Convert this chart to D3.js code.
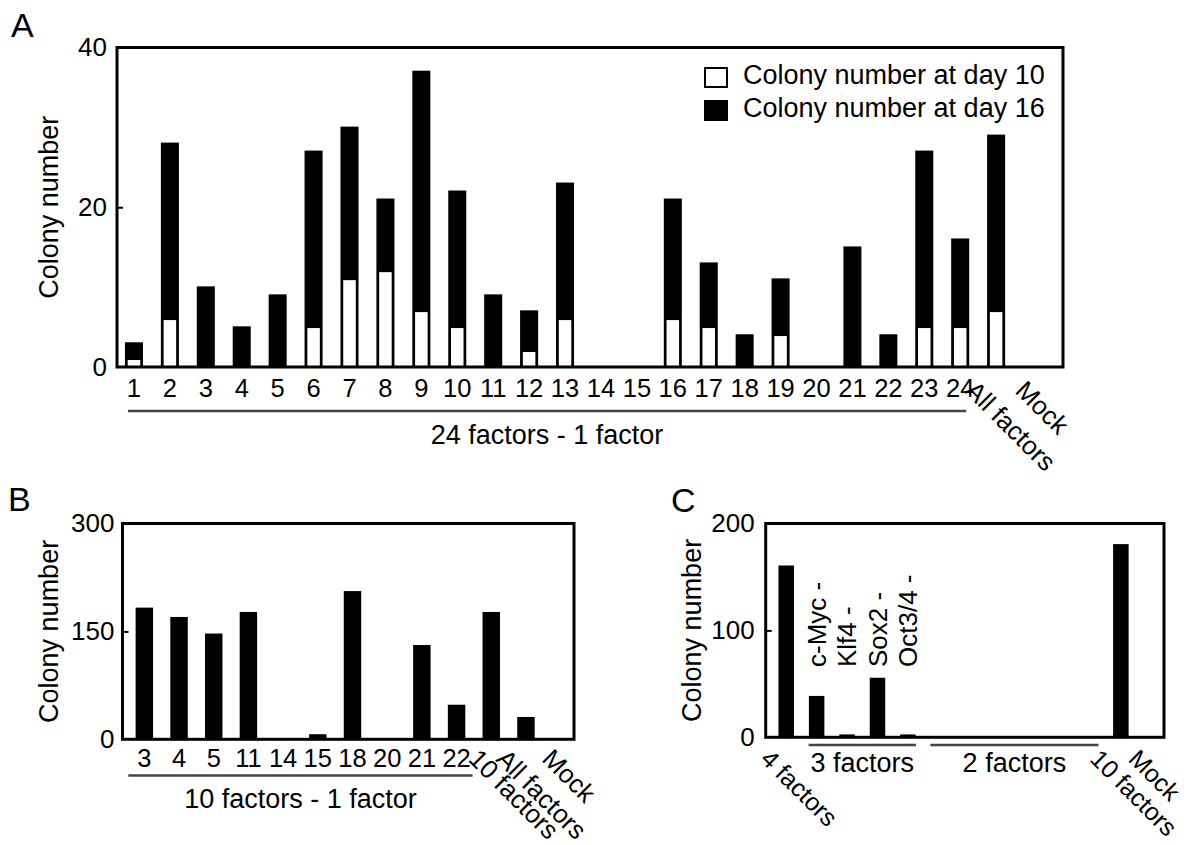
<!DOCTYPE html>
<html>
<head>
<meta charset="utf-8">
<script src="https://cdn.jsdelivr.net/npm/d3@7"></script>
<style>
  body { margin: 0; background: #fff; }
  svg { display: block; font-family: "Liberation Sans", Arial, sans-serif; }
  .frame { fill: none; stroke: #000; stroke-width: 3; }
  .tick line { stroke: #000; stroke-width: 2; }
  .tick text { fill: #000; }
</style>
</head>
<body>
<div id="chart"></div>
<script>
// Panel A: 24 factors minus one factor, colony counts at day 10 and day 16
var aLabels = ["1","2","3","4","5","6","7","8","9","10","11","12","13","14","15","16",
  "17","18","19","20","21","22","23","24","All factors","Mock"];
var aDay16 = [3,28,10,5,9,27,30,21,37,22,9,7,23,0,0,21,13,4,11,0,15,4,27,16,29,0];
var aDay10 = [1,6,0,0,0,5,11,12,7,5,0,2,6,0,0,6,5,0,4,0,0,0,5,5,7,0];
var aTicks = [0, 20, 40];

// Panel B: 10 factors minus one factor
var bLabels = ["3","4","5","11","14","15","18","20","21","22","10 factors","All factors","Mock"];
var bValues = [182,169,146,176,0,6,205,0,130,47,176,30,0];
var bTicks = [0, 150, 300];

// Panel C: combinations of the 4 factors
var cLabels = ["4 factors","c-Myc -","Klf4 -","Sox2 -","Oct3/4 -",
  "2f-1","2f-2","2f-3","2f-4","2f-5","2f-6","10 factors","Mock"];
var cValues = [160,38,2,55,2,0,0,0,0,0,0,180,0];
var cTicks = [0, 100, 200];

var svg = d3.select("#chart").append("svg")
  .attr("width", 1200)
  .attr("height", 845);

svg.append("rect").attr("width", 1200).attr("height", 845).attr("fill", "#fff");

var rotated = ["All factors", "Mock", "10 factors", "4 factors"];

// one bar panel: frame, y axis, category labels
function drawPanel(opt) {
  var x = d3.scaleBand()
    .domain(opt.labels)
    .range(opt.xRange)
    .paddingInner(0.54)
    .paddingOuter(0.27);

  var y = d3.scaleLinear()
    .domain([0, opt.ticks[opt.ticks.length - 1]])
    .range([opt.frame.y1, opt.frame.y0]);

  var g = svg.append("g");

  // y axis (ticks point inward, frame drawn separately)
  var yAxis = g.append("g")
    .attr("transform", `translate(${opt.frame.x0}, 0)`)
    .call(d3.axisLeft(y).tickValues(opt.ticks).tickSize(-6).tickPadding(opt.tickPad));
  yAxis.select(".domain").remove();
  yAxis.selectAll("text").attr("font-size", "26px").attr("font-family", "Liberation Sans, Arial");
  yAxis.selectAll(".tick").filter(d => d === 0 || d === opt.ticks[opt.ticks.length - 1])
    .select("line").remove();

  // y title
  g.append("text")
    .attr("transform", `translate(${opt.yTitleX}, ${(opt.frame.y0 + opt.frame.y1) / 2}) rotate(-90)`)
    .attr("text-anchor", "middle")
    .attr("dy", "0.35em")
    .attr("font-size", "27px")
    .text("Colony number");

  // panel letter
  g.append("text")
    .attr("x", opt.letterX)
    .attr("y", opt.letterY)
    .attr("font-size", "34px")
    .text(opt.letter);

  return { g: g, x: x, y: y };
}

function drawXLabels(p, opt) {
  var xAxis = p.g.append("g")
    .attr("transform", `translate(0, ${opt.frame.y1})`)
    .call(d3.axisBottom(p.x).tickSize(0).tickPadding(opt.labelPad)
      .tickFormat(d => (d.indexOf("2f-") === 0 || d.slice(-2) === " -") ? "" : d));
  xAxis.select(".domain").remove();
  xAxis.selectAll("text").attr("font-size", "25.5px");

  // the long names are turned 45 degrees
  xAxis.selectAll(".tick text")
    .filter(d => rotated.indexOf(d) >= 0)
    .attr("font-size", opt.rotFont)
    .attr("text-anchor", "start")
    .attr("x", 0).attr("y", 0).attr("dy", null)
    .attr("transform", d => {
      var dx = opt.rotDx[d] !== undefined ? opt.rotDx[d] : -29;
      return `translate(${dx}, ${opt.rotDy}) rotate(45)`;
    });
}

function underline(p, from, to, lineY, text, textY, ext) {
  var x0 = p.x(from) + p.x.bandwidth() / 2 - ext;
  var x1 = p.x(to) + p.x.bandwidth() / 2 + ext;
  p.g.append("line")
    .attr("x1", x0).attr("x2", x1)
    .attr("y1", lineY).attr("y2", lineY)
    .attr("stroke", "#444")
    .attr("stroke-width", 2.5);
  p.g.append("text")
    .attr("x", (x0 + x1) / 2)
    .attr("y", textY)
    .attr("text-anchor", "middle")
    .attr("font-size", "27px")
    .text(text);
}

function frame(p, f) {
  p.g.append("rect")
    .attr("class", "frame")
    .attr("x", f.x0).attr("y", f.y0)
    .attr("width", f.x1 - f.x0).attr("height", f.y1 - f.y0);
}

//////////////////////////// Panel A
var aOpt = {
  labels: aLabels, ticks: aTicks,
  frame: { x0: 117, x1: 1063, y0: 47.5, y1: 367 },
  xRange: [116, 1050], tickPad: 10, yTitleX: 49,
  letter: "A", letterX: 11, letterY: 37,
  labelPad: 12, rotDy: 25, rotFont: "26px",
  rotDx: { "All factors": -32, "Mock": -18 }
};
var pA = drawPanel(aOpt);

// day 16 (black, full height)
pA.g.selectAll("rect.day16")
  .data(aLabels.map((d, i) => ({ key: d, v: aDay16[i] })).filter(d => d.v > 0))
  .enter()
  .append("rect")
  .classed("day16", true)
  .attr("x", d => pA.x(d.key))
  .attr("width", pA.x.bandwidth())
  .attr("y", d => pA.y(d.v))
  .attr("height", d => pA.y(0) - pA.y(d.v))
  .attr("fill", "#000")
  .attr("stroke", "#000")
  .attr("stroke-width", 1.5);

// day 10 (white, overlaid at the bottom)
pA.g.selectAll("rect.day10")
  .data(aLabels.map((d, i) => ({ key: d, v: aDay10[i] })).filter(d => d.v > 0))
  .enter()
  .append("rect")
  .classed("day10", true)
  .attr("x", d => pA.x(d.key) + 1)
  .attr("width", pA.x.bandwidth() - 2)
  .attr("y", d => pA.y(d.v))
  .attr("height", d => pA.y(0) - pA.y(d.v))
  .attr("fill", "#fff")
  .attr("stroke", "#000")
  .attr("stroke-width", 2);

frame(pA, aOpt.frame);
drawXLabels(pA, aOpt);
underline(pA, "1", "24", 411, "24 factors - 1 factor", 444, 6);

// legend
var legend = pA.g.append("g").attr("transform", "translate(704, 67)");
var legendItems = [
  { fill: "#fff", text: "Colony number at day 10" },
  { fill: "#000", text: "Colony number at day 16" }
];
legendItems.forEach(function(item, i) {
  legend.append("rect")
    .attr("x", 1).attr("y", i * 33 + 1)
    .attr("width", 22).attr("height", 19)
    .attr("fill", item.fill)
    .attr("stroke", "#000")
    .attr("stroke-width", 2);
  legend.append("text")
    .attr("x", 39).attr("y", i * 33 + 17)
    .attr("font-size", "27px")
    .text(item.text);
});

//////////////////////////// Panel B
var bOpt = {
  labels: bLabels, ticks: bTicks,
  frame: { x0: 122.5, x1: 574, y0: 523.5, y1: 739.3 },
  xRange: [127, 578], tickPad: 8, yTitleX: 49,
  letter: "B", letterX: 8, letterY: 511,
  labelPad: 10, rotDy: 21, rotFont: "26px",
  rotDx: { "10 factors": -24, "All factors": -31, "Mock": -20 }
};
var pB = drawPanel(bOpt);

pB.g.selectAll("rect.bar")
  .data(bLabels.map((d, i) => ({ key: d, v: bValues[i] })).filter(d => d.v > 0))
  .enter()
  .append("rect")
  .classed("bar", true)
  .attr("x", d => pB.x(d.key))
  .attr("width", pB.x.bandwidth())
  .attr("y", d => pB.y(d.v))
  .attr("height", d => pB.y(0) - pB.y(d.v))
  .attr("fill", "#000")
  .attr("stroke", "#000")
  .attr("stroke-width", 1.5);

frame(pB, bOpt.frame);
drawXLabels(pB, bOpt);
underline(pB, "3", "22", 775.5, "10 factors - 1 factor", 808, 16);

//////////////////////////// Panel C
var cOpt = {
  labels: cLabels, ticks: cTicks,
  frame: { x0: 765.7, x1: 1164, y0: 523.5, y1: 737.3 },
  xRange: [771, 1166.5], tickPad: 11, yTitleX: 692,
  letter: "C", letterX: 671, letterY: 511.5,
  labelPad: 10, rotDy: 23, rotFont: "25px",
  rotDx: { "4 factors": -27, "10 factors": -32, "Mock": -24 }
};
var pC = drawPanel(cOpt);

pC.g.selectAll("rect.bar")
  .data(cLabels.map((d, i) => ({ key: d, v: cValues[i] })).filter(d => d.v > 0))
  .enter()
  .append("rect")
  .classed("bar", true)
  .attr("x", d => pC.x(d.key))
  .attr("width", pC.x.bandwidth())
  .attr("y", d => pC.y(d.v))
  .attr("height", d => pC.y(0) - pC.y(d.v))
  .attr("fill", "#000")
  .attr("stroke", "#000")
  .attr("stroke-width", 1.5);

frame(pC, cOpt.frame);
drawXLabels(pC, cOpt);

// 3-factor names written upright above the bars
pC.g.selectAll("text.dropLabel")
  .data(cLabels.filter(d => d.slice(-2) === " -"))
  .enter()
  .append("text")
  .classed("dropLabel", true)
  .attr("transform", d => `translate(${pC.x(d) + pC.x.bandwidth() / 2}, 667) rotate(-90)`)
  .attr("dy", "0.35em")
  .attr("font-size", "26px")
  .text(d => d);

underline(pC, "c-Myc -", "Oct3/4 -", 745, "3 factors", 771.5, 8);
underline(pC, "2f-1", "2f-6", 745, "2 factors", 771.5, 8);
</script>
</body>
</html>
